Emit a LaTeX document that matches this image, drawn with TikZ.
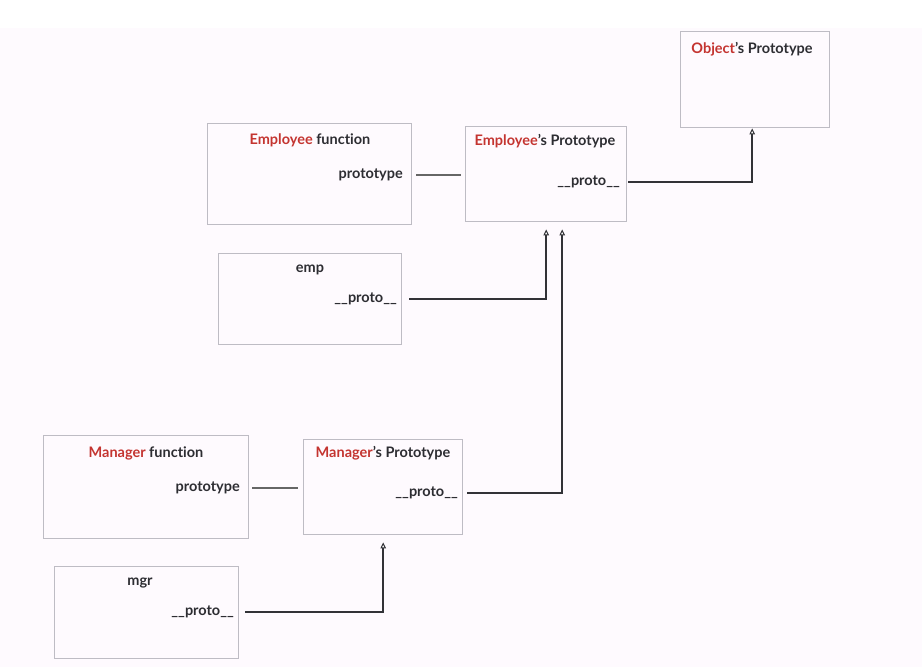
\documentclass[tikz,border=0pt]{standalone}
\usepackage{fontspec}
\setmainfont{Lato}[Ligatures=NoCommon]
\usetikzlibrary{arrows.meta}
\definecolor{keyred}{RGB}{196,52,48}
\definecolor{ink}{RGB}{45,45,50}
\definecolor{frame}{RGB}{190,188,196}
\definecolor{wire}{RGB}{50,50,55}
\definecolor{paper}{RGB}{254,250,254}
\begin{document}
\begin{tikzpicture}[x=1pt,y=-1pt,
  box/.style={draw=frame, line width=1.4pt, fill=none, inner sep=0pt, anchor=north west},
  title/.style={font=\bfseries\fontsize{14.5}{17}\selectfont, text=ink, inner sep=0pt},
  slot/.style={font=\bfseries\fontsize{14.5}{17}\selectfont, text=ink, inner sep=0pt, anchor=east},
  link/.style={draw=wire, line width=1.8pt, -{Triangle[open, length=6pt, width=5.5pt, fill=white, line width=1pt]}},
  plain/.style={draw=gray!80!black, line width=1.4pt}]
\useasboundingbox (0,0) rectangle (922,667);
\fill[paper] (0,28) rectangle (922,667);

% boxes
\node[box, minimum width=149pt, minimum height=96pt] (obj) at (680,31) {};
\node[box, minimum width=204pt, minimum height=101pt] (ef) at (207,123) {};
\node[box, minimum width=161pt, minimum height=95pt] (ep) at (465,126) {};
\node[box, minimum width=183pt, minimum height=91pt] (emp) at (218,253) {};
\node[box, minimum width=205pt, minimum height=103pt] (mf) at (43,435) {};
\node[box, minimum width=159pt, minimum height=95pt] (mp) at (303,439) {};
\node[box, minimum width=184pt, minimum height=92pt] (mgr) at (54,566) {};

% titles
\node[title] (objt) at (752,49) {\textcolor{keyred}{Object}'s Prototype};
\node[title] (eft) at (310,140) {\textcolor{keyred}{Employee} function};
\node[title] (ept) at (545,141) {\textcolor{keyred}{Employee}'s Prototype};
\node[title] (empt) at (310,270) {emp};
\node[title] (mft) at (146,453) {\textcolor{keyred}{Manager} function};
\node[title] (mpt) at (383,453) {\textcolor{keyred}{Manager}'s Prototype};
\node[title] (mgrt) at (140,583) {mgr};

% slots
\node[slot] (efs) at (403,175) {prototype};
\node[slot] (eps) at (620,182) {\_\_proto\_\_};
\node[slot] (emps) at (397,299) {\_\_proto\_\_};
\node[slot] (mfs) at (240,488) {prototype};
\node[slot] (mps) at (458,493) {\_\_proto\_\_};
\node[slot] (mgrs) at (234,612) {\_\_proto\_\_};

% prototype links
\draw[plain, shorten <=4pt, shorten >=4pt] (ef.east |- efs) -- (ep.west |- efs);
\draw[plain, shorten <=3pt, shorten >=5pt] (mf.east |- mfs) -- (mp.west |- mfs);

% __proto__ chains
\draw[link] ([xshift=1pt]ep.east |- eps) -| ([xshift=-3pt]obj.south);
\draw[link, shorten >=7pt] ([xshift=7pt]emp.east |- emps) -| (ep.south);
\draw[link, shorten >=7pt] ([xshift=4pt]mp.east |- mps) -| ([xshift=16pt]ep.south);
\draw[link, shorten >=7pt] ([xshift=6pt]mgr.east |- mgrs) -| (mp.south);
\end{tikzpicture}
\end{document}
